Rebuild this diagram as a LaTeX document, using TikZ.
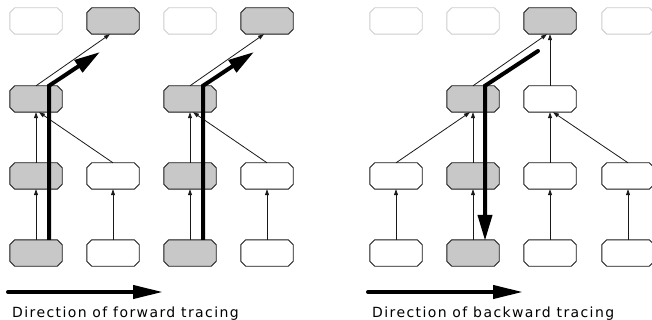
\documentclass[tikz,border=0pt]{standalone}
\usepackage{fontspec}
\usetikzlibrary{arrows.meta}
\newfontfamily\capfamily[LetterSpace=10]{DejaVu Sans}
\definecolor{cellfill}{RGB}{200,200,200}
\definecolor{ghostline}{RGB}{205,205,205}
\definecolor{edgeline}{RGB}{25,25,25}
\newcommand{\captionfont}{\capfamily\fontsize{14pt}{16pt}\selectfont}
\tikzset{
  % octagonal cell: a rectangular node with its corners cut off
  octo/.style 2 args={rectangle, minimum width=52pt, minimum height=26pt, inner sep=0pt,
    append after command={\pgfextra{\draw[line width=0.9pt, draw=#1, fill=#2]
      ([xshift=5pt]\tikzlastnode.north west) -- ([xshift=-5pt]\tikzlastnode.north east)
      -- ([yshift=-5pt]\tikzlastnode.north east) -- ([yshift=5pt]\tikzlastnode.south east)
      -- ([xshift=-5pt]\tikzlastnode.south east) -- ([xshift=5pt]\tikzlastnode.south west)
      -- ([yshift=5pt]\tikzlastnode.south west) -- ([yshift=-5pt]\tikzlastnode.north west) -- cycle;}}},
  cell/.style={octo={edgeline}{white}},
  marked/.style={octo={edgeline}{cellfill}},
  ghost/.style={octo={ghostline}{white}},
  dep/.style={draw=edgeline, line width=0.8pt, -{Triangle[length=6pt,width=4pt]}},
  trace/.style={draw=black, line width=4pt, line join=miter},
  tracehead/.style={-{Triangle[length=26pt,width=14pt]}},
  caption/.style={anchor=base west, inner sep=0pt}
}
\begin{document}
\begin{tikzpicture}[x=1pt,y=-1pt]
\useasboundingbox (0,0) rectangle (652,320);

% forward tracing: four columns
\node[ghost]  (la1) at (36,21)  {};
\node[marked] (lb1) at (113,21) {};
\node[ghost]  (lc1) at (190,21) {};
\node[marked] (ld1) at (267,21) {};
\node[marked] (la2) at (36,99)  {};
\node[marked] (lc2) at (190,99) {};
\node[marked] (la3) at (36,176) {};
\node[cell]   (lb3) at (113,176) {};
\node[marked] (lc3) at (190,176) {};
\node[cell]   (ld3) at (267,176) {};
\node[marked] (la4) at (36,253) {};
\node[cell]   (lb4) at (113,253) {};
\node[marked] (lc4) at (190,253) {};
\node[cell]   (ld4) at (267,253) {};

\draw[dep] (la4.north) -- (la3.south);
\draw[dep] (lb4.north) -- (lb3.south);
\draw[dep] (lc4.north) -- (lc3.south);
\draw[dep] (ld4.north) -- (ld3.south);
\draw[dep] (la3.north) -- (la2.south);
\draw[dep] (lb3.north) -- ([xshift=3pt]la2.south);
\draw[dep] (lc3.north) -- (lc2.south);
\draw[dep] (ld3.north) -- ([xshift=3pt]lc2.south);
\draw[dep] (la2.north) -- ([xshift=-3pt]lb1.south);
\draw[dep] (lc2.north) -- ([xshift=-3pt]ld1.south);

% forward trace paths
\coordinate (lfa) at (100,52);
\coordinate (lfc) at (254,52);
\draw[trace, tracehead] ([xshift=13pt]la4.north) -- ([xshift=13pt]la2.north) -- (lfa);
\draw[trace, tracehead] ([xshift=13pt]lc4.north) -- ([xshift=13pt]lc2.north) -- (lfc);

% backward tracing: four columns
\node[ghost]  (ra1) at (396,21) {};
\node[ghost]  (rb1) at (473,21) {};
\node[marked] (rc1) at (550,21) {};
\node[ghost]  (rd1) at (628,21) {};
\node[marked] (rb2) at (473,99) {};
\node[cell]   (rc2) at (550,99) {};
\node[cell]   (ra3) at (396,176) {};
\node[marked] (rb3) at (473,176) {};
\node[cell]   (rc3) at (550,176) {};
\node[cell]   (rd3) at (628,176) {};
\node[cell]   (ra4) at (396,253) {};
\node[marked] (rb4) at (473,253) {};
\node[cell]   (rc4) at (550,253) {};
\node[cell]   (rd4) at (628,253) {};

\draw[dep] (ra4.north) -- (ra3.south);
\draw[dep] (rb4.north) -- (rb3.south);
\draw[dep] (rc4.north) -- (rc3.south);
\draw[dep] (rd4.north) -- (rd3.south);
\draw[dep] (ra3.north) -- ([xshift=-3pt]rb2.south);
\draw[dep] (rb3.north) -- (rb2.south);
\draw[dep] (rc3.north) -- (rc2.south);
\draw[dep] (rd3.north) -- ([xshift=3pt]rc2.south);
\draw[dep] (rb2.north) -- ([xshift=-3pt]rc1.south);
\draw[dep] (rc2.north) -- (rc1.south);

% backward trace path
\coordinate (rbs) at (538,51);
\draw[trace, tracehead, line cap=round] (rbs) -- ([xshift=12pt]rb2.north) -- ([xshift=12pt,yshift=-1pt]rb4.north);

% direction arrows and captions
\coordinate (fs) at (8,292);
\coordinate (fe) at (163,292);
\coordinate (bs) at (368,292);
\coordinate (be) at (523,292);
\draw[trace, line cap=round, -{Triangle[length=30pt,width=13pt]}] (fs) -- (fe);
\draw[trace, line cap=round, -{Triangle[length=30pt,width=13pt]}] (bs) -- (be);
\node[caption] (fcap) at (12,317) {\captionfont Direction of forward tracing};
\node[caption] (bcap) at (372,317) {\captionfont Direction of backward tracing};
\end{tikzpicture}
\end{document}
